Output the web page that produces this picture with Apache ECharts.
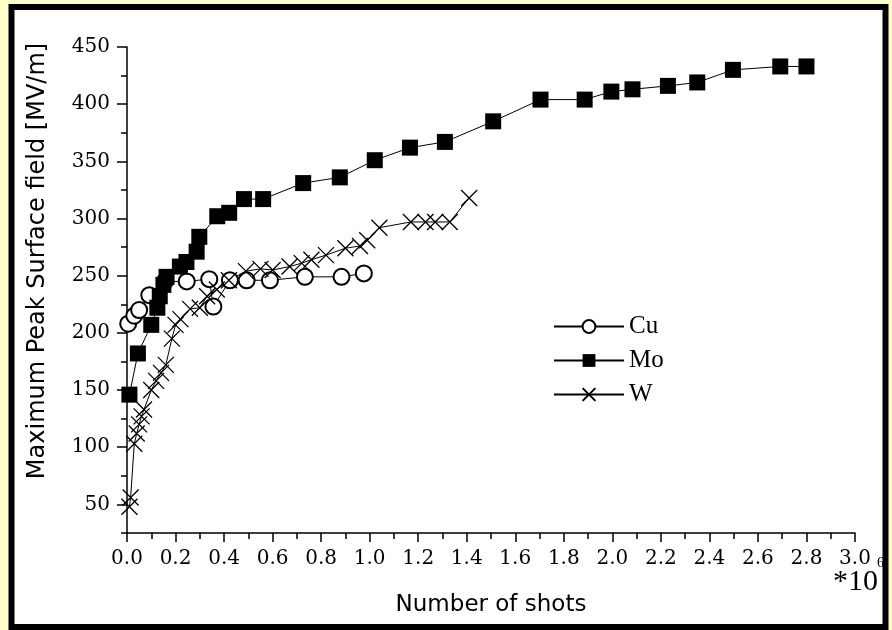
<!DOCTYPE html>
<html>
<head>
<meta charset="utf-8">
<script src="https://cdn.jsdelivr.net/npm/echarts@6/dist/echarts.min.js"></script>
<style>
  html, body { margin: 0; padding: 0; background: #ffffc8; }
  #chart { width: 892px; height: 630px; }
</style>
</head>
<body>
<div id="chart"></div>
<script>
// Number of shots (x 10^6) and maximum peak surface field (MV/m) per material
const cuShots = [0.005, 0.03, 0.05, 0.092, 0.156, 0.246, 0.339, 0.356, 0.424, 0.493, 0.589, 0.733, 0.884, 0.976];
const cuField = [208, 215, 220, 233, 245, 245, 247, 223, 246, 246, 246, 249, 249, 252];

const moShots = [0.01, 0.045, 0.10, 0.125, 0.135, 0.15, 0.163, 0.218, 0.245, 0.287, 0.298, 0.372, 0.421, 0.482, 0.561,
                 0.726, 0.877, 1.021, 1.166, 1.31, 1.509, 1.704, 1.886, 1.996, 2.083, 2.229, 2.35, 2.497, 2.692, 2.8];
const moField = [146, 182, 207, 222, 232, 242, 249, 258, 262, 271, 284, 302, 305, 317, 317,
                 331, 336, 351, 362, 367, 385, 404, 404, 411, 413, 416, 419, 430, 433, 433];

const wShots = [0.01, 0.015, 0.03, 0.04, 0.05, 0.06, 0.07, 0.10, 0.12, 0.14, 0.16, 0.185, 0.2, 0.22, 0.26, 0.3, 0.33, 0.37,
                0.42, 0.49, 0.55, 0.6, 0.67, 0.72, 0.76, 0.82, 0.9, 0.96, 0.99, 1.04, 1.17, 1.23, 1.27, 1.33, 1.41];
const wField = [48, 56, 103, 112, 120, 127, 133, 150, 158, 165, 172, 195, 207, 212, 221, 222, 232, 238,
                246, 254, 256, 255, 258, 261, 264, 268, 274, 276, 281, 292, 297, 297, 297, 297, 318];

const xTickStep = 0.2;
const seriesNames = ['Cu', 'Mo', 'W'];

const zip = (xs, ys) => xs.map((x, i) => [x, ys[i]]);
const crossPath = 'path://M0,0L10,10M10,0L0,10';

const chart = echarts.init(document.getElementById('chart'), null, { renderer: 'canvas' });

const serifFont = 'DejaVu Serif';
const sansFont = 'DejaVu Sans';

chart.setOption({
  backgroundColor: '#ffffc8',
  animation: false,
  grid: { left: 127, top: 47, right: 37, bottom: 97, containLabel: false },
  xAxis: {
    type: 'value', min: 0, max: 3.0, interval: xTickStep,
    axisLine: { onZero: false, lineStyle: { color: '#000', width: 1.5 } },
    axisTick: { show: true, length: 9, lineStyle: { color: '#000', width: 1.5 } },
    minorTick: { show: true, splitNumber: 2, length: 6, lineStyle: { color: '#000', width: 1.5 } },
    splitLine: { show: false },
    axisLabel: { color: '#000', fontFamily: serifFont, fontSize: 20, margin: 16,
                 formatter: v => v.toFixed(1) },
    name: 'Number of shots', nameLocation: 'middle', nameGap: 61,
    nameTextStyle: { color: '#000', fontFamily: sansFont, fontSize: 23 }
  },
  yAxis: [
    {
      type: 'value', min: 25, max: 450, splitNumber: 8,
      axisLine: { onZero: false, lineStyle: { color: '#000', width: 1.5 } },
      axisTick: { show: true, length: 10, lineStyle: { color: '#000', width: 1.5 } },
      splitLine: { show: false },
      axisLabel: { color: '#000', fontFamily: serifFont, fontSize: 20, margin: 17, showMinLabel: false }
    },
    {
      type: 'value', min: 25, max: 450, interval: 25, position: 'left',
      axisLine: { show: false },
      axisTick: { show: true, length: 6, lineStyle: { color: '#000', width: 1.5 } },
      splitLine: { show: false },
      axisLabel: { show: false }
    }
  ],
  legend: {
    orient: 'vertical', left: 548, top: 309, itemWidth: 70, itemHeight: 16, itemGap: 9,
    data: seriesNames,
    textStyle: { color: '#000', fontFamily: 'Liberation Serif', fontSize: 25 }
  },
  graphic: [
    {
      type: 'rect', silent: true, z: -1,
      shape: { x: 11.5, y: 7, width: 874, height: 620 },
      style: { fill: '#fff', stroke: '#000', lineWidth: 6 }
    },
    {
      type: 'text', silent: true, rotation: Math.PI / 2,
      x: 38, y: 261,
      style: { text: 'Maximum Peak Surface field [MV/m]', fill: '#000',
               font: '24px "DejaVu Sans"', align: 'center', verticalAlign: 'middle' }
    },
    {
      type: 'text', silent: true, x: 833, y: 567,
      style: { text: '*10', fill: '#000', font: '30px "Liberation Serif"' }
    },
    {
      type: 'text', silent: true, x: 877, y: 556,
      style: { text: '6', fill: '#000', font: '14px "Liberation Serif"' }
    }
  ],
  series: [
    {
      name: 'Cu', type: 'line', data: zip(cuShots, cuField),
      symbol: 'emptyCircle', symbolSize: 16,
      lineStyle: { color: '#000', width: 1 },
      itemStyle: { color: '#000', borderColor: '#000', borderWidth: 1.2 }
    },
    {
      name: 'Mo', type: 'line', data: zip(moShots, moField),
      symbol: 'rect', symbolSize: 16,
      lineStyle: { color: '#000', width: 1 },
      itemStyle: { color: '#000' }
    },
    {
      name: 'W', type: 'line', data: zip(wShots, wField),
      symbol: crossPath, symbolSize: 16,
      lineStyle: { color: '#000', width: 1 },
      itemStyle: { color: 'rgba(0,0,0,0)', borderColor: '#000', borderWidth: 1.3 }
    }
  ]
});
</script>
</body>
</html>
